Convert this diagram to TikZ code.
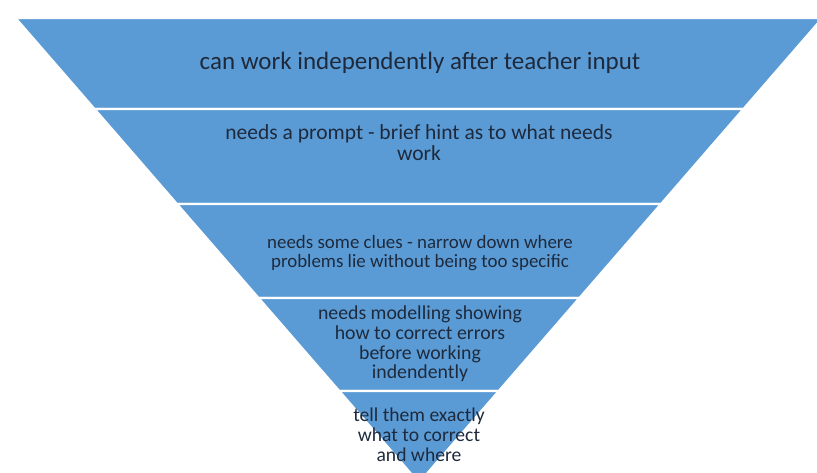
\documentclass[tikz,border=0pt]{standalone}
\usepackage{fontspec}
\setmainfont{Carlito}
\definecolor{bandblue}{HTML}{5B9BD5}
\definecolor{txtdark}{HTML}{1E2A3C}
\begin{document}
\begin{tikzpicture}[x=1pt,y=-1pt,
  band/.style={fill=bandblue,draw=white,line width=2.4pt,line join=miter},
  lbl/.style={text=txtdark,align=center,inner sep=0pt,anchor=center}]
\useasboundingbox (0,0) rectangle (817,473);
% edge points
\coordinate (l0) at (15.4,18);  \coordinate (r0) at (822.6,18);
\coordinate (l1) at (94.4,109); \coordinate (r1) at (743.6,109);
\coordinate (l2) at (176.8,204);\coordinate (r2) at (661.2,204);
\coordinate (l3) at (258.4,298);\coordinate (r3) at (579.6,298);
\coordinate (l4) at (339.1,391);\coordinate (r4) at (498.9,391);
\coordinate (apex) at (419,483);
% bands
\draw[band] (l0) -- (r0) -- (r1) -- (l1) -- cycle;
\draw[band] (l1) -- (r1) -- (r2) -- (l2) -- cycle;
\draw[band] (l2) -- (r2) -- (r3) -- (l3) -- cycle;
\draw[band] (l3) -- (r3) -- (r4) -- (l4) -- cycle;
\draw[band] (l4) -- (r4) -- (apex) -- cycle;
% labels
\node[lbl,font=\fontsize{25}{28}\selectfont] (t1) at (420,63)
  {can work independently after teacher input};
\node[lbl,font=\fontsize{21.5}{21}\selectfont] (t2) at (419,142.5)
  {needs a prompt - brief hint as to what needs\\work};
\node[lbl,font=\fontsize{18.9}{19}\selectfont] (t3) at (420,253)
  {needs some clues - narrow down where\\problems lie without being too specific};
\node[lbl,font=\fontsize{19.8}{19.7}\selectfont] (t4) at (420,344)
  {needs modelling showing\\how to correct errors\\before working\\indendently};
\node[lbl,font=\fontsize{19.6}{20}\selectfont] (t5) at (419,435)
  {tell them exactly\\what to correct\\and where};
\end{tikzpicture}
\end{document}
